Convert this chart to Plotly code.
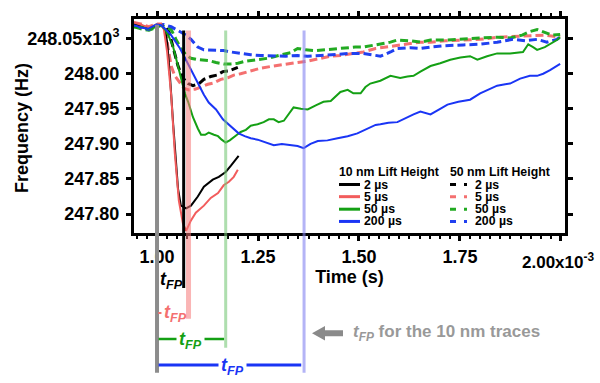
import plotly.graph_objects as go

# ---------------- data (time in ms -> axis x10^-3 s ; frequency in kHz -> axis x10^3 Hz)
t_10nm_2us = [0.943,0.960,0.980,0.998,1.010,1.020,1.025,1.032,1.040,1.047,1.052,1.059,1.072,1.084,1.101,1.116,1.138,1.153,1.170,1.183,1.195,1.202]
f_10nm_2us = [248.070,248.069,248.064,248.069,248.070,248.063,248.045,247.997,247.928,247.867,247.836,247.812,247.808,247.812,247.825,247.839,247.849,247.853,247.860,247.869,247.878,247.883]

t_10nm_5us = [0.943,0.960,0.980,0.998,1.010,1.017,1.025,1.035,1.044,1.054,1.064,1.072,1.084,1.096,1.116,1.133,1.151,1.165,1.178,1.190,1.200]
f_10nm_5us = [248.073,248.070,248.066,248.070,248.071,248.063,248.031,247.970,247.887,247.819,247.787,247.776,247.791,247.802,247.812,247.823,247.830,247.841,247.846,247.853,247.863]

t_10nm_50us = [0.943,0.960,0.980,0.998,1.010,1.020,1.030,1.040,1.049,1.059,1.069,1.077,1.089,1.101,1.109,1.119,1.128,1.141,1.151,1.160,1.170,1.180,1.188,1.198,1.207,1.220,1.232,1.249,1.264,1.277,1.289,1.301,1.314,1.326,1.338,1.356,1.373,1.393,1.412,1.430,1.454,1.472,1.486,1.504,1.516,1.528,1.553,1.578,1.602,1.620,1.635,1.652,1.677,1.701,1.726,1.751,1.775,1.793,1.817,1.842,1.874,1.906,1.919,1.931,1.941,1.960,1.978,1.990,1.998]
f_10nm_50us = [248.066,248.067,248.063,248.067,248.069,248.063,248.052,248.038,248.018,247.993,247.972,247.960,247.938,247.922,247.913,247.913,247.916,247.913,247.911,247.906,247.902,247.905,247.909,247.913,247.917,247.920,247.926,247.928,247.931,247.935,247.935,247.931,247.933,247.942,247.952,247.950,247.949,247.955,247.960,247.961,247.974,247.977,247.972,247.972,247.981,247.986,247.990,247.997,247.994,247.996,247.997,248.003,248.011,248.015,248.020,248.023,248.025,248.020,248.025,248.029,248.029,248.031,248.042,248.038,248.034,248.038,248.044,248.048,248.052]

t_10nm_200us = [0.943,0.960,0.978,0.998,1.010,1.022,1.035,1.047,1.057,1.067,1.079,1.091,1.104,1.116,1.128,1.146,1.163,1.178,1.190,1.202,1.217,1.232,1.249,1.269,1.289,1.309,1.331,1.348,1.363,1.380,1.398,1.422,1.447,1.472,1.496,1.521,1.541,1.553,1.573,1.595,1.615,1.635,1.652,1.677,1.701,1.719,1.746,1.775,1.800,1.825,1.842,1.862,1.874,1.899,1.923,1.941,1.956,1.973,1.988,1.998]
f_10nm_200us = [248.069,248.066,248.064,248.070,248.069,248.063,248.055,248.045,248.036,248.025,248.011,247.997,247.983,247.970,247.959,247.949,247.935,247.927,247.920,247.915,247.911,247.908,247.906,247.902,247.898,247.900,247.898,247.897,247.894,247.900,247.904,247.905,247.908,247.911,247.915,247.922,247.927,247.928,247.930,247.931,247.937,247.942,247.946,247.942,247.950,247.956,247.960,247.963,247.972,247.978,247.983,247.985,247.986,247.993,247.997,247.997,248.000,248.005,248.011,248.014]

t_50nm_2us = [0.943,0.960,0.980,0.998,1.010,1.022,1.030,1.040,1.052,1.064,1.077,1.089,1.104,1.116,1.133,1.148,1.163,1.178,1.190,1.200]
f_50nm_2us = [248.071,248.069,248.063,248.069,248.070,248.066,248.059,248.036,248.011,247.994,247.986,247.983,247.986,247.992,247.996,247.998,248.003,248.004,248.007,248.009]

t_50nm_5us = [0.943,0.960,0.980,0.998,1.010,1.020,1.027,1.035,1.044,1.054,1.067,1.079,1.094,1.109,1.126,1.141,1.158,1.175,1.190,1.207,1.232,1.257,1.289,1.319,1.348,1.373,1.405,1.430,1.454,1.484,1.511,1.541,1.565,1.595,1.627,1.652,1.677,1.714,1.758,1.800,1.842,1.879,1.923,1.960,1.998]
f_50nm_5us = [248.073,248.071,248.067,248.071,248.071,248.063,248.038,248.011,247.997,247.989,247.979,247.977,247.978,247.981,247.985,247.987,247.992,247.994,247.998,248.000,248.004,248.008,248.011,248.014,248.016,248.018,248.022,248.025,248.026,248.029,248.031,248.036,248.038,248.041,248.044,248.045,248.045,248.047,248.048,248.049,248.052,248.053,248.055,248.055,248.052]

t_50nm_50us = [0.943,0.960,0.980,0.998,1.010,1.022,1.035,1.047,1.059,1.072,1.084,1.101,1.126,1.146,1.165,1.183,1.200,1.220,1.249,1.274,1.301,1.331,1.348,1.368,1.393,1.412,1.437,1.467,1.491,1.511,1.533,1.553,1.578,1.595,1.627,1.652,1.677,1.714,1.758,1.800,1.842,1.874,1.904,1.923,1.941,1.960,1.978,1.998]
f_50nm_50us = [248.067,248.064,248.062,248.066,248.069,248.066,248.063,248.049,248.036,248.027,248.022,248.020,248.019,248.016,248.014,248.014,248.015,248.018,248.020,248.022,248.026,248.030,248.036,248.034,248.033,248.034,248.036,248.037,248.038,248.038,248.040,248.042,248.045,248.048,248.047,248.045,248.048,248.048,248.049,248.051,248.052,248.051,248.055,248.060,248.063,248.059,248.055,248.056]

t_50nm_200us = [0.943,0.960,0.980,0.998,1.017,1.035,1.047,1.059,1.072,1.084,1.101,1.116,1.133,1.151,1.165,1.183,1.207,1.232,1.257,1.289,1.319,1.348,1.373,1.405,1.430,1.454,1.479,1.511,1.533,1.553,1.578,1.595,1.627,1.652,1.677,1.714,1.758,1.800,1.842,1.881,1.911,1.941,1.965,1.990,1.998]
f_50nm_200us = [248.069,248.066,248.063,248.069,248.070,248.067,248.063,248.060,248.055,248.049,248.038,248.034,248.034,248.033,248.033,248.031,248.029,248.027,248.026,248.025,248.025,248.026,248.025,248.026,248.027,248.027,248.029,248.029,248.027,248.025,248.031,248.036,248.037,248.036,248.038,248.040,248.041,248.042,248.045,248.049,248.047,248.049,248.045,248.049,248.052]

pulse_labels = ["2 µs", "5 µs", "50 µs", "200 µs"]
series_colors = ["#000000", "#f25c5c", "#14a014", "#1a35f5"]
dash_colors = ["#000000", "#f47070", "#22aa22", "#2040f0"]

# t_FP marker positions (ms)
t_start = 1.000
t_fp_10nm = [1.066, 1.078, 1.170, 1.364]   # 2, 5, 50, 200 us
marker_colors = ["#000000", "rgba(245,120,120,0.55)", "rgba(120,200,120,0.6)", "rgba(130,130,240,0.6)"]
marker_widths = [3, 5, 3, 3]

x_ticks = [1.00, 1.25, 1.50, 1.75, 2.00]
x_ticktext = ["1.00", "1.25", "1.50", "1.75", ""]
y_ticks = [247.80, 247.85, 247.90, 247.95, 248.00, 248.05]
y_ticktext = ["247.80", "247.85", "247.90", "247.95", "248.00", "248.05x10<sup>3</sup>"]

# ---------------- layout geometry
W, H = 600, 383
L, R, T, B = 134, 35, 11, 150
PW, PH = W - L - R, H - T - B

def px(xp):
    return (xp - L) / PW

def py(yp):
    return (H - B - yp) / PH

FONT = "Liberation Sans"
fig = go.Figure()

t10 = [t_10nm_2us, t_10nm_5us, t_10nm_50us, t_10nm_200us]
f10 = [f_10nm_2us, f_10nm_5us, f_10nm_50us, f_10nm_200us]
t50 = [t_50nm_2us, t_50nm_5us, t_50nm_50us, t_50nm_200us]
f50 = [f_50nm_2us, f_50nm_5us, f_50nm_50us, f_50nm_200us]

for i in range(4):
    fig.add_trace(go.Scatter(x=t50[i], y=f50[i], mode="lines", showlegend=False,
                             line=dict(color=dash_colors[i], width=3, dash="8px,4px")))
for i in range(4):
    fig.add_trace(go.Scatter(x=t10[i], y=f10[i], mode="lines", showlegend=False,
                             line=dict(color=series_colors[i], width=2)))

shapes = []
# vertical t_FP markers
bottoms = [290, 322, 352, 378]
shapes.append(dict(type="line", xref="x", yref="paper", x0=t_start, x1=t_start,
                   y0=py(378), y1=py(17), line=dict(color="#8c8c8c", width=4), layer="above"))
for i in range(4):
    shapes.append(dict(type="line", xref="x", yref="paper", x0=t_fp_10nm[i], x1=t_fp_10nm[i],
                       y0=py(bottoms[i]), y1=py(23),
                       line=dict(color=marker_colors[i], width=marker_widths[i]), layer="above"))
# brackets
shapes.append(dict(type="line", xref="x", yref="paper", x0=1.004, x1=1.166, y0=py(343), y1=py(343),
                   line=dict(color=series_colors[2], width=2.5)))
shapes.append(dict(type="line", xref="x", yref="paper", x0=1.004, x1=1.357, y0=py(370), y1=py(370),
                   line=dict(color=series_colors[3], width=3)))
shapes.append(dict(type="line", xref="x", yref="paper", x0=1.003, x1=1.011, y0=py(316), y1=py(316),
                   line=dict(color="#f47070", width=2)))
# gray arrow
ay, tip, hb, tail, hh, sh = 337, 312, 325, 343, 7.5, 3
path = (f"M {px(tip)} {py(ay)} L {px(hb)} {py(ay-hh)} L {px(hb)} {py(ay-sh)} L {px(tail)} {py(ay-sh)} "
        f"L {px(tail)} {py(ay+sh)} L {px(hb)} {py(ay+sh)} L {px(hb)} {py(ay+hh)} Z")
shapes.append(dict(type="path", xref="paper", yref="paper", path=path,
                   fillcolor="#8a8a8a", line=dict(width=0)))

# legend samples
leg_y = [182.7, 195.3, 208.3, 221]
for i in range(4):
    shapes.append(dict(type="line", xref="paper", yref="paper", x0=px(339), x1=px(360),
                       y0=py(leg_y[i]), y1=py(leg_y[i]), line=dict(color=series_colors[i], width=3)))
    shapes.append(dict(type="line", xref="paper", yref="paper", x0=px(450), x1=px(468),
                       y0=py(leg_y[i]), y1=py(leg_y[i]),
                       line=dict(color=dash_colors[i], width=3, dash="6px,8px,3px,20px")))

ann = []
def A(text, x, y, size, color="#000", xanchor="center", xref="paper", bg=None, angle=0, pad=None):
    d = dict(text=text, x=x, y=y, xref=xref, yref="paper", showarrow=False, xanchor=xanchor,
             yanchor="middle", textangle=angle,
             font=dict(family=FONT, size=size, color=color, weight="bold"))
    if bg:
        d["bgcolor"] = bg
        d["borderpad"] = 2
    if pad is not None:
        d["borderpad"] = pad
    ann.append(d)

tfp = "<i>t</i><sub><i>FP</i></sub>"
A("10 nm Lift Height", px(338), py(169.3), 12.3, xanchor="left", pad=0)
A("50 nm Lift Height", px(449), py(169.3), 12.3, xanchor="left", pad=0)
for i in range(4):
    A(pulse_labels[i], px(363), py(leg_y[i]), 12.3, xanchor="left", pad=0)
    A(pulse_labels[i], px(474), py(leg_y[i]), 12.3, xanchor="left", pad=0)

A(tfp, 1.035, py(282), 18, xref="x")
A(tfp, 1.046, py(317), 18, color="#f47070", xref="x")
A(tfp, 1.084, py(345), 18, color=series_colors[2], xref="x", bg="white")
A(tfp, 1.188, py(372), 18, color=series_colors[3], xref="x", bg="white")
A(tfp + " for the 10 nm traces", px(351), py(337), 17, color="#999999", xanchor="left")
A("2.00x10<sup>-3</sup>", px(520), py(262), 17, xanchor="left")
A("Frequency (Hz)", px(22), py(124), 18, angle=-90)

fig.update_layout(
    width=W, height=H, margin=dict(l=L, r=R, t=T, b=B),
    plot_bgcolor="white", paper_bgcolor="white",
    font=dict(family=FONT, size=18, color="#000"),
    shapes=shapes, annotations=ann, showlegend=False,
    xaxis=dict(range=[0.943, 2.01], tickvals=x_ticks, ticktext=x_ticktext,
               showgrid=False, zeroline=False, showline=True, linewidth=3, linecolor="#000",
               mirror="allticks", ticks="outside", ticklen=5, tickwidth=2.5, tickcolor="#000",
               ticklabelstandoff=0,
               tickfont=dict(family=FONT, size=18, weight="bold"),
               minor=dict(dtick=0.025, ticks="outside", ticklen=3, tickwidth=2, tickcolor="#000"),
               title=dict(text="Time (s)", font=dict(family=FONT, size=18, weight="bold"), standoff=1)),
    yaxis=dict(range=[247.773, 248.078], tickvals=y_ticks, ticktext=y_ticktext,
               showgrid=False, zeroline=False, showline=True, linewidth=3, linecolor="#000",
               mirror="allticks", ticks="outside", ticklen=5, tickwidth=2.5, tickcolor="#000",
               ticklabelstandoff=3,
               tickfont=dict(family=FONT, size=18, weight="bold")),
)

fig.write_html("out.html")
